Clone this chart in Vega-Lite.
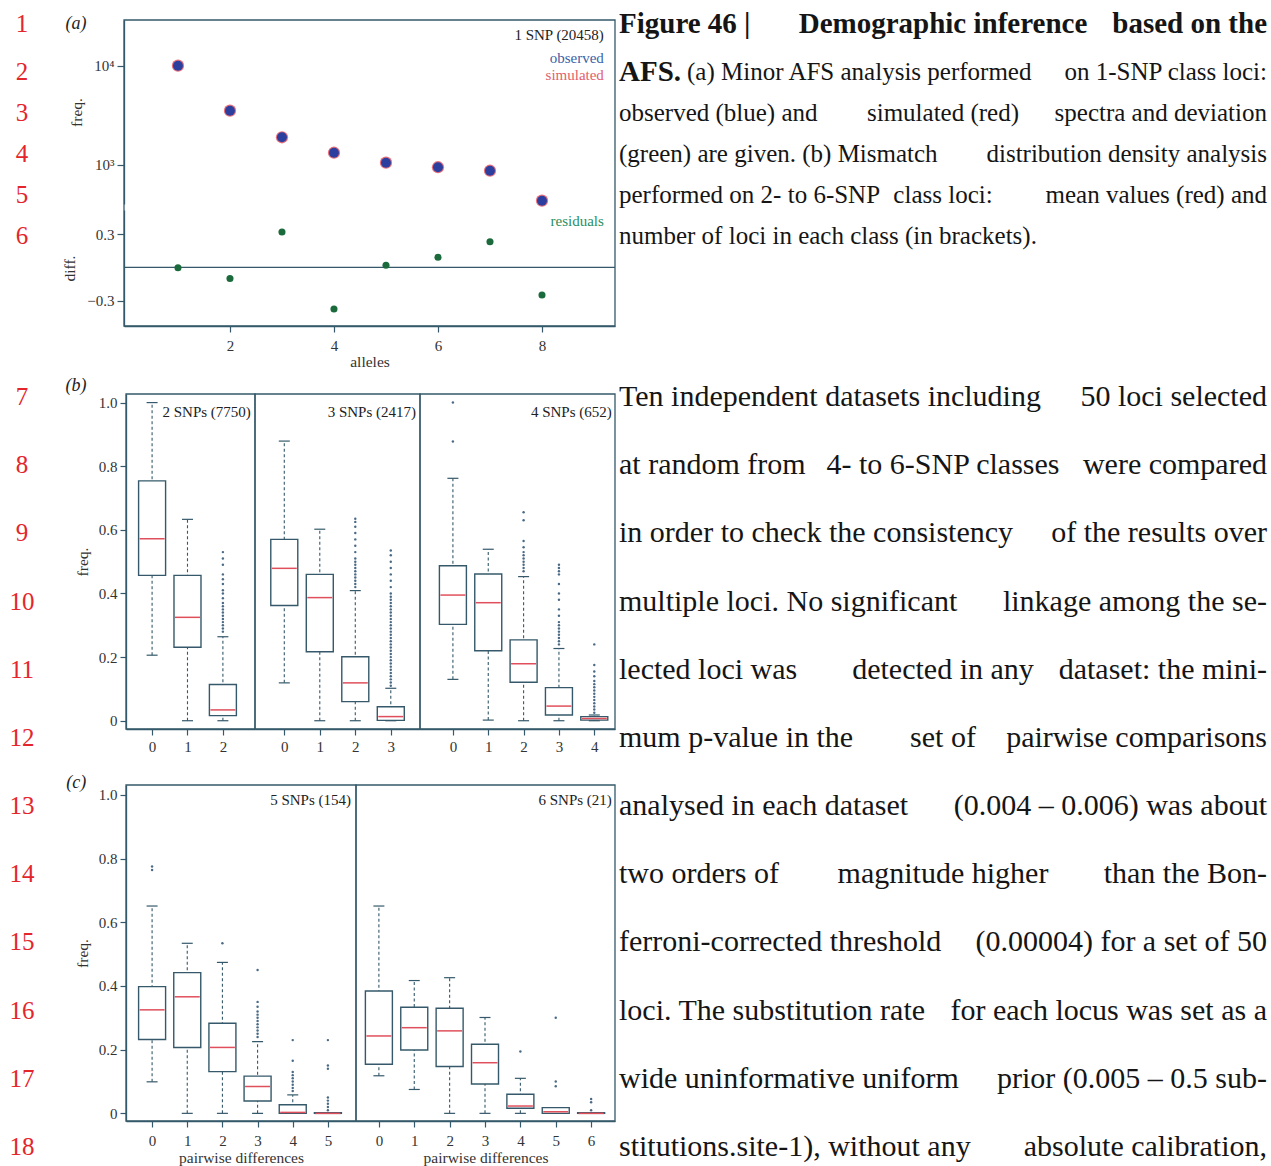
{
"$schema": "https://vega.github.io/schema/vega-lite/v6.json",
"width": 1271, "height": 1166,
"autosize": {"type": "none"},
"padding": 0,
"background": "white",
"config": {
  "view": {"stroke": null},
  "text": {"font": "Liberation Serif"},
  "axis": {"labelFont": "Liberation Serif", "labelFontSize": 15, "labelColor": "#333333", "titleFont": "Liberation Serif", "titleFontSize": 15.5, "titleFontWeight": "normal", "titleColor": "#333333", "domainColor": "#35596a", "tickColor": "#35596a", "domainWidth": 1.3, "tickWidth": 1.2, "grid": false, "tickSize": 6, "labelPadding": 3}
},
"datasets": {
  "nums": [{"line":1},{"line":2},{"line":3},{"line":4},{"line":5},{"line":6},{"line":7},{"line":8},{"line":9},{"line":10},{"line":11},{"line":12},{"line":13},{"line":14},{"line":15},{"line":16},{"line":17},{"line":18}],
  "heading": [
    {"line":1,"L":"Figure 46 |","M":"Demographic inference","R":"based on the"},
    {"line":2,"L":"AFS.","M":"","R":""}
  ],
  "caption": [
    {"line":2,"L":"","A":"(a) Minor AFS analysis performed","M":"","R":"on 1-SNP class loci:"},
    {"line":3,"L":"observed (blue) and","A":"","M":"simulated (red)","R":"spectra and deviation"},
    {"line":4,"L":"(green) are given. (b) Mismatch","A":"","M":"","R":"distribution density analysis"},
    {"line":5,"L":"performed on 2- to 6-SNP","A":"","M":"class loci:","R":"mean values (red) and"},
    {"line":6,"L":"number of loci in each class (in brackets).","A":"","M":"","R":""}
  ],
  "body": [
    {"line":7,"L":"Ten independent datasets including","M":"","R":"50 loci selected"},
    {"line":8,"L":"at random from","M":"4- to 6-SNP classes","R":"were compared"},
    {"line":9,"L":"in order to check the consistency","M":"","R":"of the results over"},
    {"line":10,"L":"multiple loci. No significant","M":"","R":"linkage among the se-"},
    {"line":11,"L":"lected loci was","M":"detected in any","R":"dataset: the mini-"},
    {"line":12,"L":"mum p-value in the","M":"set of","R":"pairwise comparisons"},
    {"line":13,"L":"analysed in each dataset","M":"","R":"(0.004 – 0.006) was about"},
    {"line":14,"L":"two orders of","M":"magnitude higher","R":"than the Bon-"},
    {"line":15,"L":"ferroni-corrected threshold","M":"","R":"(0.00004) for a set of 50"},
    {"line":16,"L":"loci. The substitution rate","M":"","R":"for each locus was set as a"},
    {"line":17,"L":"wide uninformative uniform","M":"","R":"prior (0.005 – 0.5 sub-"},
    {"line":18,"L":"stitutions.site-1), without any","M":"","R":"absolute calibration,"}
  ],
  "afs": [
    {"a":1,"obs":10070,"sim":10070,"diff":-0.004},
    {"a":2,"obs":3535,"sim":3535,"diff":-0.1},
    {"a":3,"obs":1905,"sim":1905,"diff":0.318},
    {"a":4,"obs":1330,"sim":1330,"diff":-0.375},
    {"a":5,"obs":1055,"sim":1055,"diff":0.018},
    {"a":6,"obs":949,"sim":949,"diff":0.09},
    {"a":7,"obs":875,"sim":875,"diff":0.23},
    {"a":8,"obs":436,"sim":436,"diff":-0.249}
  ],
  "boxes": [
    {"p":"b1","c":0,"lo":0.206,"q1":0.457,"med":0.572,"q3":0.754,"hi":1.0},
    {"p":"b1","c":1,"lo":0.0,"q1":0.231,"med":0.325,"q3":0.457,"hi":0.633},
    {"p":"b1","c":2,"lo":0.0,"q1":0.016,"med":0.034,"q3":0.114,"hi":0.264},
    {"p":"b2","c":0,"lo":0.119,"q1":0.362,"med":0.479,"q3":0.57,"hi":0.879},
    {"p":"b2","c":1,"lo":0.0,"q1":0.217,"med":0.387,"q3":0.46,"hi":0.602},
    {"p":"b2","c":2,"lo":0.0,"q1":0.06,"med":0.119,"q3":0.201,"hi":0.409},
    {"p":"b2","c":3,"lo":0.0,"q1":0.001,"med":0.013,"q3":0.044,"hi":0.102},
    {"p":"b3","c":0,"lo":0.13,"q1":0.303,"med":0.395,"q3":0.487,"hi":0.762},
    {"p":"b3","c":1,"lo":0.002,"q1":0.22,"med":0.371,"q3":0.461,"hi":0.539},
    {"p":"b3","c":2,"lo":0.0,"q1":0.121,"med":0.179,"q3":0.254,"hi":0.453},
    {"p":"b3","c":3,"lo":0.0,"q1":0.018,"med":0.046,"q3":0.104,"hi":0.227},
    {"p":"b3","c":4,"lo":0.0,"q1":0.002,"med":0.007,"q3":0.013,"hi":0.018},
    {"p":"c1","c":0,"lo":0.099,"q1":0.232,"med":0.325,"q3":0.398,"hi":0.651},
    {"p":"c1","c":1,"lo":0.0,"q1":0.207,"med":0.366,"q3":0.442,"hi":0.534},
    {"p":"c1","c":2,"lo":0.0,"q1":0.131,"med":0.207,"q3":0.283,"hi":0.474},
    {"p":"c1","c":3,"lo":0.0,"q1":0.039,"med":0.084,"q3":0.117,"hi":0.225},
    {"p":"c1","c":4,"lo":0.0,"q1":0.0,"med":0.003,"q3":0.027,"hi":0.058},
    {"p":"c1","c":5,"lo":0.0,"q1":0.0,"med":0.0,"q3":0.002,"hi":0.002},
    {"p":"c2","c":0,"lo":0.118,"q1":0.154,"med":0.243,"q3":0.384,"hi":0.651},
    {"p":"c2","c":1,"lo":0.075,"q1":0.199,"med":0.269,"q3":0.333,"hi":0.417},
    {"p":"c2","c":2,"lo":0.0,"q1":0.147,"med":0.259,"q3":0.33,"hi":0.426},
    {"p":"c2","c":3,"lo":0.0,"q1":0.092,"med":0.159,"q3":0.217,"hi":0.301},
    {"p":"c2","c":4,"lo":0.0,"q1":0.016,"med":0.023,"q3":0.06,"hi":0.11},
    {"p":"c2","c":5,"lo":0.0,"q1":0.0,"med":0.005,"q3":0.018,"hi":0.018},
    {"p":"c2","c":6,"lo":0.0,"q1":0.0,"med":0.0,"q3":0.002,"hi":0.002}
  ],
  "out": [
    {"p":"b1","c":2,"v":0.28},{"p":"b1","c":2,"v":0.29},{"p":"b1","c":2,"v":0.3},{"p":"b1","c":2,"v":0.31},{"p":"b1","c":2,"v":0.32},{"p":"b1","c":2,"v":0.33},{"p":"b1","c":2,"v":0.34},{"p":"b1","c":2,"v":0.35},{"p":"b1","c":2,"v":0.36},{"p":"b1","c":2,"v":0.37},{"p":"b1","c":2,"v":0.385},{"p":"b1","c":2,"v":0.4},{"p":"b1","c":2,"v":0.41},{"p":"b1","c":2,"v":0.43},{"p":"b1","c":2,"v":0.445},{"p":"b1","c":2,"v":0.46},{"p":"b1","c":2,"v":0.49},{"p":"b1","c":2,"v":0.51},{"p":"b1","c":2,"v":0.53},
    {"p":"b2","c":2,"v":0.42},{"p":"b2","c":2,"v":0.43},{"p":"b2","c":2,"v":0.44},{"p":"b2","c":2,"v":0.45},{"p":"b2","c":2,"v":0.46},{"p":"b2","c":2,"v":0.47},{"p":"b2","c":2,"v":0.48},{"p":"b2","c":2,"v":0.49},{"p":"b2","c":2,"v":0.5},{"p":"b2","c":2,"v":0.51},{"p":"b2","c":2,"v":0.53},{"p":"b2","c":2,"v":0.55},{"p":"b2","c":2,"v":0.57},{"p":"b2","c":2,"v":0.59},{"p":"b2","c":2,"v":0.61},{"p":"b2","c":2,"v":0.625},{"p":"b2","c":2,"v":0.635},
    {"p":"b2","c":3,"v":0.11},{"p":"b2","c":3,"v":0.12},{"p":"b2","c":3,"v":0.13},{"p":"b2","c":3,"v":0.14},{"p":"b2","c":3,"v":0.15},{"p":"b2","c":3,"v":0.16},{"p":"b2","c":3,"v":0.17},{"p":"b2","c":3,"v":0.18},{"p":"b2","c":3,"v":0.19},{"p":"b2","c":3,"v":0.2},{"p":"b2","c":3,"v":0.21},{"p":"b2","c":3,"v":0.22},{"p":"b2","c":3,"v":0.23},{"p":"b2","c":3,"v":0.24},{"p":"b2","c":3,"v":0.25},{"p":"b2","c":3,"v":0.26},{"p":"b2","c":3,"v":0.27},{"p":"b2","c":3,"v":0.28},{"p":"b2","c":3,"v":0.29},{"p":"b2","c":3,"v":0.3},{"p":"b2","c":3,"v":0.31},{"p":"b2","c":3,"v":0.32},{"p":"b2","c":3,"v":0.33},{"p":"b2","c":3,"v":0.34},{"p":"b2","c":3,"v":0.35},{"p":"b2","c":3,"v":0.36},{"p":"b2","c":3,"v":0.37},{"p":"b2","c":3,"v":0.38},{"p":"b2","c":3,"v":0.39},{"p":"b2","c":3,"v":0.4},{"p":"b2","c":3,"v":0.42},{"p":"b2","c":3,"v":0.44},{"p":"b2","c":3,"v":0.46},{"p":"b2","c":3,"v":0.48},{"p":"b2","c":3,"v":0.5},{"p":"b2","c":3,"v":0.52},{"p":"b2","c":3,"v":0.535},
    {"p":"b3","c":0,"v":0.878},{"p":"b3","c":0,"v":1.0},
    {"p":"b3","c":2,"v":0.47},{"p":"b3","c":2,"v":0.48},{"p":"b3","c":2,"v":0.49},{"p":"b3","c":2,"v":0.5},{"p":"b3","c":2,"v":0.51},{"p":"b3","c":2,"v":0.52},{"p":"b3","c":2,"v":0.53},{"p":"b3","c":2,"v":0.545},{"p":"b3","c":2,"v":0.565},{"p":"b3","c":2,"v":0.63},{"p":"b3","c":2,"v":0.655},
    {"p":"b3","c":3,"v":0.24},{"p":"b3","c":3,"v":0.25},{"p":"b3","c":3,"v":0.26},{"p":"b3","c":3,"v":0.27},{"p":"b3","c":3,"v":0.28},{"p":"b3","c":3,"v":0.29},{"p":"b3","c":3,"v":0.3},{"p":"b3","c":3,"v":0.31},{"p":"b3","c":3,"v":0.33},{"p":"b3","c":3,"v":0.35},{"p":"b3","c":3,"v":0.38},{"p":"b3","c":3,"v":0.4},{"p":"b3","c":3,"v":0.43},{"p":"b3","c":3,"v":0.46},{"p":"b3","c":3,"v":0.47},{"p":"b3","c":3,"v":0.48},{"p":"b3","c":3,"v":0.49},
    {"p":"b3","c":4,"v":0.025},{"p":"b3","c":4,"v":0.035},{"p":"b3","c":4,"v":0.045},{"p":"b3","c":4,"v":0.055},{"p":"b3","c":4,"v":0.065},{"p":"b3","c":4,"v":0.075},{"p":"b3","c":4,"v":0.085},{"p":"b3","c":4,"v":0.095},{"p":"b3","c":4,"v":0.105},{"p":"b3","c":4,"v":0.115},{"p":"b3","c":4,"v":0.125},{"p":"b3","c":4,"v":0.14},{"p":"b3","c":4,"v":0.155},{"p":"b3","c":4,"v":0.175},{"p":"b3","c":4,"v":0.24},
    {"p":"c1","c":0,"v":0.764},{"p":"c1","c":0,"v":0.775},
    {"p":"c1","c":2,"v":0.534},
    {"p":"c1","c":3,"v":0.24},{"p":"c1","c":3,"v":0.25},{"p":"c1","c":3,"v":0.26},{"p":"c1","c":3,"v":0.27},{"p":"c1","c":3,"v":0.28},{"p":"c1","c":3,"v":0.29},{"p":"c1","c":3,"v":0.3},{"p":"c1","c":3,"v":0.31},{"p":"c1","c":3,"v":0.32},{"p":"c1","c":3,"v":0.335},{"p":"c1","c":3,"v":0.35},{"p":"c1","c":3,"v":0.45},
    {"p":"c1","c":4,"v":0.07},{"p":"c1","c":4,"v":0.08},{"p":"c1","c":4,"v":0.09},{"p":"c1","c":4,"v":0.1},{"p":"c1","c":4,"v":0.11},{"p":"c1","c":4,"v":0.12},{"p":"c1","c":4,"v":0.13},{"p":"c1","c":4,"v":0.165},{"p":"c1","c":4,"v":0.23},
    {"p":"c1","c":5,"v":0.01},{"p":"c1","c":5,"v":0.02},{"p":"c1","c":5,"v":0.03},{"p":"c1","c":5,"v":0.04},{"p":"c1","c":5,"v":0.05},{"p":"c1","c":5,"v":0.14},{"p":"c1","c":5,"v":0.15},{"p":"c1","c":5,"v":0.23},
    {"p":"c2","c":4,"v":0.194},
    {"p":"c2","c":5,"v":0.085},{"p":"c2","c":5,"v":0.1},{"p":"c2","c":5,"v":0.3},
    {"p":"c2","c":6,"v":0.01},{"p":"c2","c":6,"v":0.035},{"p":"c2","c":6,"v":0.045}
  ]
},
"resolve": {"scale": {"x": "independent", "y": "independent"}},
"layer": [
  {
    "data": {"name": "nums"},
    "mark": {"type": "text", "align": "center", "baseline": "middle", "fontSize": 25, "color": "#e4262c", "font": "Liberation Serif"},
    "encoding": {
      "x": {"datum": 0, "type": "quantitative", "scale": {"domain": [0, 1], "range": [22, 100], "nice": false, "zero": false}, "axis": null},
      "y": {"field": "line", "type": "quantitative", "scale": {"domain": [1, 2, 6, 7, 18], "range": [24, 72, 236, 397, 1147], "nice": false, "zero": false}, "axis": null},
      "text": {"field": "line", "type": "quantitative", "format": "d"}
    }
  },
  {
    "encoding": {
      "y": {"field": "line", "type": "quantitative", "scale": {"domain": [1, 2, 6, 7, 18], "range": [24, 72, 236, 397, 1147], "nice": false, "zero": false}, "axis": null}
    },
    "layer": [
      {"data": {"name": "heading"}, "mark": {"type": "text", "align": "left", "baseline": "middle", "fontSize": 29, "fontWeight": "bold", "color": "#151515"},
       "encoding": {"x": {"datum": 0, "type": "quantitative", "scale": {"domain": [0, 1], "range": [619, 1267], "nice": false, "zero": false}, "axis": null}, "text": {"field": "L"}}},
      {"data": {"name": "heading"}, "mark": {"type": "text", "align": "center", "baseline": "middle", "fontSize": 29, "fontWeight": "bold", "color": "#151515"},
       "encoding": {"x": {"datum": 0.5, "type": "quantitative", "scale": {"domain": [0, 1], "range": [619, 1267], "nice": false, "zero": false}, "axis": null}, "text": {"field": "M"}}},
      {"data": {"name": "heading"}, "mark": {"type": "text", "align": "right", "baseline": "middle", "fontSize": 29, "fontWeight": "bold", "color": "#151515"},
       "encoding": {"x": {"datum": 1, "type": "quantitative", "scale": {"domain": [0, 1], "range": [619, 1267], "nice": false, "zero": false}, "axis": null}, "text": {"field": "R"}}},
      {"data": {"name": "caption"}, "mark": {"type": "text", "align": "left", "baseline": "middle", "fontSize": 25, "color": "#151515"},
       "encoding": {"x": {"datum": 0, "type": "quantitative", "scale": {"domain": [0, 1], "range": [619, 1267], "nice": false, "zero": false}, "axis": null}, "text": {"field": "L"}}},
      {"data": {"name": "caption"}, "mark": {"type": "text", "align": "left", "baseline": "middle", "fontSize": 25, "color": "#151515"},
       "encoding": {"x": {"datum": 0.105, "type": "quantitative", "scale": {"domain": [0, 1], "range": [619, 1267], "nice": false, "zero": false}, "axis": null}, "text": {"field": "A"}}},
      {"data": {"name": "caption"}, "mark": {"type": "text", "align": "center", "baseline": "middle", "fontSize": 25, "color": "#151515"},
       "encoding": {"x": {"datum": 0.5, "type": "quantitative", "scale": {"domain": [0, 1], "range": [619, 1267], "nice": false, "zero": false}, "axis": null}, "text": {"field": "M"}}},
      {"data": {"name": "caption"}, "mark": {"type": "text", "align": "right", "baseline": "middle", "fontSize": 25, "color": "#151515"},
       "encoding": {"x": {"datum": 1, "type": "quantitative", "scale": {"domain": [0, 1], "range": [619, 1267], "nice": false, "zero": false}, "axis": null}, "text": {"field": "R"}}},
      {"data": {"name": "body"}, "mark": {"type": "text", "align": "left", "baseline": "middle", "fontSize": 30, "color": "#151515"},
       "encoding": {"x": {"datum": 0, "type": "quantitative", "scale": {"domain": [0, 1], "range": [619, 1267], "nice": false, "zero": false}, "axis": null}, "text": {"field": "L"}}},
      {"data": {"name": "body"}, "mark": {"type": "text", "align": "center", "baseline": "middle", "fontSize": 30, "color": "#151515"},
       "encoding": {"x": {"datum": 0.5, "type": "quantitative", "scale": {"domain": [0, 1], "range": [619, 1267], "nice": false, "zero": false}, "axis": null}, "text": {"field": "M"}}},
      {"data": {"name": "body"}, "mark": {"type": "text", "align": "right", "baseline": "middle", "fontSize": 30, "color": "#151515"},
       "encoding": {"x": {"datum": 1, "type": "quantitative", "scale": {"domain": [0, 1], "range": [619, 1267], "nice": false, "zero": false}, "axis": null}, "text": {"field": "R"}}}
    ]
  },
  {
    "resolve": {"scale": {"y": "independent"}},
    "layer": [
      {
        "layer": [
          {"data": {"name": "afs"}, "mark": {"type": "point", "filled": true, "size": 150, "color": "#e8707c", "opacity": 1},
           "encoding": {
             "x": {"field": "a", "type": "quantitative", "scale": {"domain": [-0.038, 9.404], "range": [124, 615], "nice": false, "zero": false, "padding": 0},
                   "axis": {"orient": "bottom", "offset": -840, "values": [2, 4, 6, 8], "format": "d", "title": "alleles", "labelPadding": 6, "titlePadding": 1}},
             "y": {"field": "sim", "type": "quantitative", "scale": {"type": "log", "domain": [403.6, 29140], "range": [204, 20], "nice": false, "padding": 0},
                   "axis": {"orient": "left", "offset": -124, "values": [1000, 10000], "labelExpr": "datum.value >= 10000 ? '10⁴' : '10³'", "title": "freq.", "titlePadding": 9, "tickSize": 7}}
           }},
          {"data": {"name": "afs"}, "mark": {"type": "point", "filled": true, "size": 100, "color": "#2c3f9e", "opacity": 1},
           "encoding": {
             "x": {"field": "a", "type": "quantitative", "scale": {"domain": [-0.038, 9.404], "range": [124, 615], "nice": false, "zero": false, "padding": 0},
                   "axis": {"orient": "bottom", "offset": -840, "values": [2, 4, 6, 8], "format": "d", "title": "alleles", "labelPadding": 6, "titlePadding": 1}},
             "y": {"field": "obs", "type": "quantitative", "scale": {"type": "log", "domain": [403.6, 29140], "range": [204, 20], "nice": false, "padding": 0},
                   "axis": {"orient": "left", "offset": -124, "values": [1000, 10000], "labelExpr": "datum.value >= 10000 ? '10⁴' : '10³'", "title": "freq.", "titlePadding": 9, "tickSize": 7}}
           }},
          {"data": {"values": [{"t": "1 SNP (20458)", "x": 9.19, "y": 20560}]}, "mark": {"type": "text", "align": "right", "baseline": "middle", "fontSize": 15, "color": "#222222"},
           "encoding": {
             "x": {"field": "x", "type": "quantitative", "axis": {"orient": "bottom", "offset": -840, "values": [2, 4, 6, 8], "format": "d", "title": "alleles", "labelPadding": 6, "titlePadding": 1}},
             "y": {"field": "y", "type": "quantitative", "axis": {"orient": "left", "offset": -124, "values": [1000, 10000], "labelExpr": "datum.value >= 10000 ? '10⁴' : '10³'", "title": "freq.", "titlePadding": 9, "tickSize": 7}},
             "text": {"field": "t"}}},
          {"data": {"values": [{"t": "observed", "x": 9.19, "y": 12130}]}, "mark": {"type": "text", "align": "right", "baseline": "middle", "fontSize": 15, "color": "#3d5fa8"},
           "encoding": {
             "x": {"field": "x", "type": "quantitative", "axis": {"orient": "bottom", "offset": -840, "values": [2, 4, 6, 8], "format": "d", "title": "alleles", "labelPadding": 6, "titlePadding": 1}},
             "y": {"field": "y", "type": "quantitative", "axis": {"orient": "left", "offset": -124, "values": [1000, 10000], "labelExpr": "datum.value >= 10000 ? '10⁴' : '10³'", "title": "freq.", "titlePadding": 9, "tickSize": 7}},
             "text": {"field": "t"}}},
          {"data": {"values": [{"t": "simulated", "x": 9.19, "y": 8110}]}, "mark": {"type": "text", "align": "right", "baseline": "middle", "fontSize": 15, "color": "#e4606c"},
           "encoding": {
             "x": {"field": "x", "type": "quantitative", "axis": {"orient": "bottom", "offset": -840, "values": [2, 4, 6, 8], "format": "d", "title": "alleles", "labelPadding": 6, "titlePadding": 1}},
             "y": {"field": "y", "type": "quantitative", "axis": {"orient": "left", "offset": -124, "values": [1000, 10000], "labelExpr": "datum.value >= 10000 ? '10⁴' : '10³'", "title": "freq.", "titlePadding": 9, "tickSize": 7}},
             "text": {"field": "t"}}},
          {"data": {"values": [{"t": "(a)", "x": -0.96, "y": 26550}]}, "mark": {"type": "text", "align": "center", "baseline": "middle", "fontSize": 18, "fontStyle": "italic", "color": "#222222"},
           "encoding": {
             "x": {"field": "x", "type": "quantitative", "axis": {"orient": "bottom", "offset": -840, "values": [2, 4, 6, 8], "format": "d", "title": "alleles", "labelPadding": 6, "titlePadding": 1}},
             "y": {"field": "y", "type": "quantitative", "axis": {"orient": "left", "offset": -124, "values": [1000, 10000], "labelExpr": "datum.value >= 10000 ? '10⁴' : '10³'", "title": "freq.", "titlePadding": 9, "tickSize": 7}},
             "text": {"field": "t"}}}
        ]
      },
      {
        "layer": [
          {"data": {"values": [{"x1": -0.038, "x2": 9.404, "y1": -0.528, "y2": 2.226}]}, "mark": {"type": "rect", "fillOpacity": 0, "stroke": "#35596a", "strokeWidth": 1.3},
           "encoding": {
             "x": {"field": "x1", "type": "quantitative", "axis": {"orient": "bottom", "offset": -840, "values": [2, 4, 6, 8], "format": "d", "title": "alleles", "labelPadding": 6, "titlePadding": 1}},
             "x2": {"field": "x2"},
             "y": {"field": "y1", "type": "quantitative", "scale": {"domain": [-0.528, 0.516], "range": [326, 210], "nice": false, "zero": false, "padding": 0},
                   "axis": {"orient": "left", "offset": -124, "values": [-0.3, 0.3], "labelExpr": "replace(format(datum.value, '.1f'), '-', '−')", "title": "diff.", "titlePadding": 9, "tickSize": 7}},
             "y2": {"field": "y2"}
           }},
          {"data": {"values": [{"x1": -0.038, "x2": 9.404, "y": 0}]}, "mark": {"type": "rule", "color": "#35596a", "strokeWidth": 1.3},
           "encoding": {
             "x": {"field": "x1", "type": "quantitative", "axis": {"orient": "bottom", "offset": -840, "values": [2, 4, 6, 8], "format": "d", "title": "alleles", "labelPadding": 6, "titlePadding": 1}},
             "x2": {"field": "x2"},
             "y": {"field": "y", "type": "quantitative", "axis": {"orient": "left", "offset": -124, "values": [-0.3, 0.3], "labelExpr": "replace(format(datum.value, '.1f'), '-', '−')", "title": "diff.", "titlePadding": 9, "tickSize": 7}}
           }},
          {"data": {"name": "afs"}, "mark": {"type": "point", "filled": true, "size": 50, "color": "#1b6a3c", "opacity": 1},
           "encoding": {
             "x": {"field": "a", "type": "quantitative", "axis": {"orient": "bottom", "offset": -840, "values": [2, 4, 6, 8], "format": "d", "title": "alleles", "labelPadding": 6, "titlePadding": 1}},
             "y": {"field": "diff", "type": "quantitative", "axis": {"orient": "left", "offset": -124, "values": [-0.3, 0.3], "labelExpr": "replace(format(datum.value, '.1f'), '-', '−')", "title": "diff.", "titlePadding": 9, "tickSize": 7}}
           }},
          {"data": {"values": [{"t": "residuals", "x": 9.19, "y": 0.419}]}, "mark": {"type": "text", "align": "right", "baseline": "middle", "fontSize": 15, "color": "#2a8f5e"},
           "encoding": {
             "x": {"field": "x", "type": "quantitative", "axis": {"orient": "bottom", "offset": -840, "values": [2, 4, 6, 8], "format": "d", "title": "alleles", "labelPadding": 6, "titlePadding": 1}},
             "y": {"field": "y", "type": "quantitative", "axis": {"orient": "left", "offset": -124, "values": [-0.3, 0.3], "labelExpr": "replace(format(datum.value, '.1f'), '-', '−')", "title": "diff.", "titlePadding": 9, "tickSize": 7}},
             "text": {"field": "t"}}}
        ]
      }
    ]
  },
  {
    "data": {"name": "boxes"},
    "transform": [{"filter": "datum.p === 'b1'"}],
    "encoding": {
      "x": {"field": "c", "type": "quantitative", "scale": {"domain": [-0.737, 2.907], "range": [126, 255], "nice": false, "zero": false, "padding": 0},
            "axis": {"orient": "bottom", "offset": -437, "values": [0, 1, 2], "format": "d", "title": null, "labelPadding": 4}}
    },
    "layer": [
      {"data": {"values": [{"x1": -0.737, "x2": 2.907, "y1": -0.026, "y2": 1.027}]}, "transform": [], "mark": {"type": "rect", "fillOpacity": 0, "stroke": "#35596a", "strokeWidth": 1.3},
       "encoding": {
         "x": {"field": "x1", "type": "quantitative", "axis": {"orient": "bottom", "offset": -437, "values": [0, 1, 2], "format": "d", "title": null, "labelPadding": 4}},
         "x2": {"field": "x2"},
         "y": {"field": "y1", "type": "quantitative", "scale": {"domain": [-0.026, 1.027], "range": [729, 394], "nice": false, "zero": false, "padding": 0},
               "axis": {"orient": "left", "offset": -126, "values": [0, 0.2, 0.4, 0.6, 0.8, 1], "labelExpr": "datum.value === 0 ? '0' : format(datum.value, '.1f')", "title": "freq.", "titlePadding": 8}},
         "y2": {"field": "y2"}
       }},
      {"mark": {"type": "rule", "color": "#35596a", "strokeWidth": 1.1, "strokeDash": [3, 2.5]},
       "encoding": {"y": {"field": "lo", "type": "quantitative", "axis": {"orient": "left", "offset": -126, "values": [0, 0.2, 0.4, 0.6, 0.8, 1], "labelExpr": "datum.value === 0 ? '0' : format(datum.value, '.1f')", "title": "freq.", "titlePadding": 8}}, "y2": {"field": "hi"}}},
      {"mark": {"type": "tick", "orient": "horizontal", "size": 11, "thickness": 1.2, "color": "#35596a", "opacity": 1},
       "encoding": {"y": {"field": "lo", "type": "quantitative", "axis": {"orient": "left", "offset": -126, "values": [0, 0.2, 0.4, 0.6, 0.8, 1], "labelExpr": "datum.value === 0 ? '0' : format(datum.value, '.1f')", "title": "freq.", "titlePadding": 8}}}},
      {"mark": {"type": "tick", "orient": "horizontal", "size": 11, "thickness": 1.2, "color": "#35596a", "opacity": 1},
       "encoding": {"y": {"field": "hi", "type": "quantitative", "axis": {"orient": "left", "offset": -126, "values": [0, 0.2, 0.4, 0.6, 0.8, 1], "labelExpr": "datum.value === 0 ? '0' : format(datum.value, '.1f')", "title": "freq.", "titlePadding": 8}}}},
      {"mark": {"type": "bar", "width": 27, "fill": "white", "stroke": "#35596a", "strokeWidth": 1.4},
       "encoding": {"y": {"field": "q1", "type": "quantitative", "axis": {"orient": "left", "offset": -126, "values": [0, 0.2, 0.4, 0.6, 0.8, 1], "labelExpr": "datum.value === 0 ? '0' : format(datum.value, '.1f')", "title": "freq.", "titlePadding": 8}}, "y2": {"field": "q3"}}},
      {"mark": {"type": "tick", "orient": "horizontal", "size": 25, "thickness": 1.5, "color": "#e0505c", "opacity": 1},
       "encoding": {"y": {"field": "med", "type": "quantitative", "axis": {"orient": "left", "offset": -126, "values": [0, 0.2, 0.4, 0.6, 0.8, 1], "labelExpr": "datum.value === 0 ? '0' : format(datum.value, '.1f')", "title": "freq.", "titlePadding": 8}}}},
      {"data": {"name": "out"}, "transform": [{"filter": "datum.p === 'b1'"}], "mark": {"type": "point", "filled": true, "size": 6, "color": "#4a6a85", "opacity": 1},
       "encoding": {"y": {"field": "v", "type": "quantitative", "axis": {"orient": "left", "offset": -126, "values": [0, 0.2, 0.4, 0.6, 0.8, 1], "labelExpr": "datum.value === 0 ? '0' : format(datum.value, '.1f')", "title": "freq.", "titlePadding": 8}}}},
      {"data": {"values": [{"t": "2 SNPs (7750)", "c": 2.79, "y": 0.969}]}, "mark": {"type": "text", "align": "right", "baseline": "middle", "fontSize": 15, "color": "#222222"},
       "encoding": {"y": {"field": "y", "type": "quantitative", "axis": {"orient": "left", "offset": -126, "values": [0, 0.2, 0.4, 0.6, 0.8, 1], "labelExpr": "datum.value === 0 ? '0' : format(datum.value, '.1f')", "title": "freq.", "titlePadding": 8}}, "text": {"field": "t"}}},
      {"data": {"values": [{"t": "(b)", "c": -2.15, "y": 1.052}]}, "mark": {"type": "text", "align": "center", "baseline": "middle", "fontSize": 18, "fontStyle": "italic", "color": "#222222"},
       "encoding": {"y": {"field": "y", "type": "quantitative", "axis": {"orient": "left", "offset": -126, "values": [0, 0.2, 0.4, 0.6, 0.8, 1], "labelExpr": "datum.value === 0 ? '0' : format(datum.value, '.1f')", "title": "freq.", "titlePadding": 8}}, "text": {"field": "t"}}}
    ]
  },
  {
    "data": {"name": "boxes"},
    "transform": [{"filter": "datum.p === 'b2'"}],
    "encoding": {
      "x": {"field": "c", "type": "quantitative", "scale": {"domain": [-0.825, 3.823], "range": [255, 420], "nice": false, "zero": false, "padding": 0},
            "axis": {"orient": "bottom", "offset": -437, "values": [0, 1, 2, 3], "format": "d", "title": null, "labelPadding": 4}}
    },
    "layer": [
      {"data": {"values": [{"x1": -0.825, "x2": 3.823, "y1": -0.026, "y2": 1.027}]}, "transform": [], "mark": {"type": "rect", "fillOpacity": 0, "stroke": "#35596a", "strokeWidth": 1.3},
       "encoding": {
         "x": {"field": "x1", "type": "quantitative", "axis": {"orient": "bottom", "offset": -437, "values": [0, 1, 2, 3], "format": "d", "title": null, "labelPadding": 4}},
         "x2": {"field": "x2"},
         "y": {"field": "y1", "type": "quantitative", "scale": {"domain": [-0.026, 1.027], "range": [729, 394], "nice": false, "zero": false, "padding": 0}, "axis": null},
         "y2": {"field": "y2"}
       }},
      {"mark": {"type": "rule", "color": "#35596a", "strokeWidth": 1.1, "strokeDash": [3, 2.5]},
       "encoding": {"y": {"field": "lo", "type": "quantitative", "axis": null}, "y2": {"field": "hi"}}},
      {"mark": {"type": "tick", "orient": "horizontal", "size": 11, "thickness": 1.2, "color": "#35596a", "opacity": 1},
       "encoding": {"y": {"field": "lo", "type": "quantitative", "axis": null}}},
      {"mark": {"type": "tick", "orient": "horizontal", "size": 11, "thickness": 1.2, "color": "#35596a", "opacity": 1},
       "encoding": {"y": {"field": "hi", "type": "quantitative", "axis": null}}},
      {"mark": {"type": "bar", "width": 27, "fill": "white", "stroke": "#35596a", "strokeWidth": 1.4},
       "encoding": {"y": {"field": "q1", "type": "quantitative", "axis": null}, "y2": {"field": "q3"}}},
      {"mark": {"type": "tick", "orient": "horizontal", "size": 25, "thickness": 1.5, "color": "#e0505c", "opacity": 1},
       "encoding": {"y": {"field": "med", "type": "quantitative", "axis": null}}},
      {"data": {"name": "out"}, "transform": [{"filter": "datum.p === 'b2'"}], "mark": {"type": "point", "filled": true, "size": 6, "color": "#4a6a85", "opacity": 1},
       "encoding": {"y": {"field": "v", "type": "quantitative", "axis": null}}},
      {"data": {"values": [{"t": "3 SNPs (2417)", "c": 3.71, "y": 0.969}]}, "mark": {"type": "text", "align": "right", "baseline": "middle", "fontSize": 15, "color": "#222222"},
       "encoding": {"y": {"field": "y", "type": "quantitative", "axis": null}, "text": {"field": "t"}}}
    ]
  },
  {
    "data": {"name": "boxes"},
    "transform": [{"filter": "datum.p === 'b3'"}],
    "encoding": {
      "x": {"field": "c", "type": "quantitative", "scale": {"domain": [-0.931, 4.586], "range": [420, 615], "nice": false, "zero": false, "padding": 0},
            "axis": {"orient": "bottom", "offset": -437, "values": [0, 1, 2, 3, 4], "format": "d", "title": null, "labelPadding": 4}}
    },
    "layer": [
      {"data": {"values": [{"x1": -0.931, "x2": 4.586, "y1": -0.026, "y2": 1.027}]}, "transform": [], "mark": {"type": "rect", "fillOpacity": 0, "stroke": "#35596a", "strokeWidth": 1.3},
       "encoding": {
         "x": {"field": "x1", "type": "quantitative", "axis": {"orient": "bottom", "offset": -437, "values": [0, 1, 2, 3, 4], "format": "d", "title": null, "labelPadding": 4}},
         "x2": {"field": "x2"},
         "y": {"field": "y1", "type": "quantitative", "scale": {"domain": [-0.026, 1.027], "range": [729, 394], "nice": false, "zero": false, "padding": 0}, "axis": null},
         "y2": {"field": "y2"}
       }},
      {"mark": {"type": "rule", "color": "#35596a", "strokeWidth": 1.1, "strokeDash": [3, 2.5]},
       "encoding": {"y": {"field": "lo", "type": "quantitative", "axis": null}, "y2": {"field": "hi"}}},
      {"mark": {"type": "tick", "orient": "horizontal", "size": 11, "thickness": 1.2, "color": "#35596a", "opacity": 1},
       "encoding": {"y": {"field": "lo", "type": "quantitative", "axis": null}}},
      {"mark": {"type": "tick", "orient": "horizontal", "size": 11, "thickness": 1.2, "color": "#35596a", "opacity": 1},
       "encoding": {"y": {"field": "hi", "type": "quantitative", "axis": null}}},
      {"mark": {"type": "bar", "width": 27, "fill": "white", "stroke": "#35596a", "strokeWidth": 1.4},
       "encoding": {"y": {"field": "q1", "type": "quantitative", "axis": null}, "y2": {"field": "q3"}}},
      {"mark": {"type": "tick", "orient": "horizontal", "size": 25, "thickness": 1.5, "color": "#e0505c", "opacity": 1},
       "encoding": {"y": {"field": "med", "type": "quantitative", "axis": null}}},
      {"data": {"name": "out"}, "transform": [{"filter": "datum.p === 'b3'"}], "mark": {"type": "point", "filled": true, "size": 6, "color": "#4a6a85", "opacity": 1},
       "encoding": {"y": {"field": "v", "type": "quantitative", "axis": null}}},
      {"data": {"values": [{"t": "4 SNPs (652)", "c": 4.495, "y": 0.969}]}, "mark": {"type": "text", "align": "right", "baseline": "middle", "fontSize": 15, "color": "#222222"},
       "encoding": {"y": {"field": "y", "type": "quantitative", "axis": null}, "text": {"field": "t"}}}
    ]
  },
  {
    "data": {"name": "boxes"},
    "transform": [{"filter": "datum.p === 'c1'"}],
    "encoding": {
      "x": {"field": "c", "type": "quantitative", "scale": {"domain": [-0.742, 5.799], "range": [126, 356], "nice": false, "zero": false, "padding": 0},
            "axis": {"orient": "bottom", "offset": -45, "values": [0, 1, 2, 3, 4, 5], "format": "d", "title": "pairwise differences", "labelPadding": 6, "titlePadding": 2}}
    },
    "layer": [
      {"data": {"values": [{"x1": -0.742, "x2": 5.799, "y1": -0.024, "y2": 1.031}]}, "transform": [], "mark": {"type": "rect", "fillOpacity": 0, "stroke": "#35596a", "strokeWidth": 1.3},
       "encoding": {
         "x": {"field": "x1", "type": "quantitative", "axis": {"orient": "bottom", "offset": -45, "values": [0, 1, 2, 3, 4, 5], "format": "d", "title": "pairwise differences", "labelPadding": 6, "titlePadding": 2}},
         "x2": {"field": "x2"},
         "y": {"field": "y1", "type": "quantitative", "scale": {"domain": [-0.024, 1.031], "range": [1121, 785], "nice": false, "zero": false, "padding": 0},
               "axis": {"orient": "left", "offset": -126, "values": [0, 0.2, 0.4, 0.6, 0.8, 1], "labelExpr": "datum.value === 0 ? '0' : format(datum.value, '.1f')", "title": "freq.", "titlePadding": 8}},
         "y2": {"field": "y2"}
       }},
      {"mark": {"type": "rule", "color": "#35596a", "strokeWidth": 1.1, "strokeDash": [3, 2.5]},
       "encoding": {"y": {"field": "lo", "type": "quantitative", "axis": {"orient": "left", "offset": -126, "values": [0, 0.2, 0.4, 0.6, 0.8, 1], "labelExpr": "datum.value === 0 ? '0' : format(datum.value, '.1f')", "title": "freq.", "titlePadding": 8}}, "y2": {"field": "hi"}}},
      {"mark": {"type": "tick", "orient": "horizontal", "size": 11, "thickness": 1.2, "color": "#35596a", "opacity": 1},
       "encoding": {"y": {"field": "lo", "type": "quantitative", "axis": {"orient": "left", "offset": -126, "values": [0, 0.2, 0.4, 0.6, 0.8, 1], "labelExpr": "datum.value === 0 ? '0' : format(datum.value, '.1f')", "title": "freq.", "titlePadding": 8}}}},
      {"mark": {"type": "tick", "orient": "horizontal", "size": 11, "thickness": 1.2, "color": "#35596a", "opacity": 1},
       "encoding": {"y": {"field": "hi", "type": "quantitative", "axis": {"orient": "left", "offset": -126, "values": [0, 0.2, 0.4, 0.6, 0.8, 1], "labelExpr": "datum.value === 0 ? '0' : format(datum.value, '.1f')", "title": "freq.", "titlePadding": 8}}}},
      {"mark": {"type": "bar", "width": 27, "fill": "white", "stroke": "#35596a", "strokeWidth": 1.4},
       "encoding": {"y": {"field": "q1", "type": "quantitative", "axis": {"orient": "left", "offset": -126, "values": [0, 0.2, 0.4, 0.6, 0.8, 1], "labelExpr": "datum.value === 0 ? '0' : format(datum.value, '.1f')", "title": "freq.", "titlePadding": 8}}, "y2": {"field": "q3"}}},
      {"mark": {"type": "tick", "orient": "horizontal", "size": 25, "thickness": 1.5, "color": "#e0505c", "opacity": 1},
       "encoding": {"y": {"field": "med", "type": "quantitative", "axis": {"orient": "left", "offset": -126, "values": [0, 0.2, 0.4, 0.6, 0.8, 1], "labelExpr": "datum.value === 0 ? '0' : format(datum.value, '.1f')", "title": "freq.", "titlePadding": 8}}}},
      {"data": {"name": "out"}, "transform": [{"filter": "datum.p === 'c1'"}], "mark": {"type": "point", "filled": true, "size": 6, "color": "#4a6a85", "opacity": 1},
       "encoding": {"y": {"field": "v", "type": "quantitative", "axis": {"orient": "left", "offset": -126, "values": [0, 0.2, 0.4, 0.6, 0.8, 1], "labelExpr": "datum.value === 0 ? '0' : format(datum.value, '.1f')", "title": "freq.", "titlePadding": 8}}}},
      {"data": {"values": [{"t": "5 SNPs (154)", "c": 5.657, "y": 0.984}]}, "mark": {"type": "text", "align": "right", "baseline": "middle", "fontSize": 15, "color": "#222222"},
       "encoding": {"y": {"field": "y", "type": "quantitative", "axis": {"orient": "left", "offset": -126, "values": [0, 0.2, 0.4, 0.6, 0.8, 1], "labelExpr": "datum.value === 0 ? '0' : format(datum.value, '.1f')", "title": "freq.", "titlePadding": 8}}, "text": {"field": "t"}}},
      {"data": {"values": [{"t": "(c)", "c": -2.16, "y": 1.037}]}, "mark": {"type": "text", "align": "center", "baseline": "middle", "fontSize": 18, "fontStyle": "italic", "color": "#222222"},
       "encoding": {"y": {"field": "y", "type": "quantitative", "axis": {"orient": "left", "offset": -126, "values": [0, 0.2, 0.4, 0.6, 0.8, 1], "labelExpr": "datum.value === 0 ? '0' : format(datum.value, '.1f')", "title": "freq.", "titlePadding": 8}}, "text": {"field": "t"}}}
    ]
  },
  {
    "data": {"name": "boxes"},
    "transform": [{"filter": "datum.p === 'c2'"}],
    "encoding": {
      "x": {"field": "c", "type": "quantitative", "scale": {"domain": [-0.647, 6.675], "range": [356, 615], "nice": false, "zero": false, "padding": 0},
            "axis": {"orient": "bottom", "offset": -45, "values": [0, 1, 2, 3, 4, 5, 6], "format": "d", "title": "pairwise differences", "labelPadding": 6, "titlePadding": 2}}
    },
    "layer": [
      {"data": {"values": [{"x1": -0.647, "x2": 6.675, "y1": -0.024, "y2": 1.031}]}, "transform": [], "mark": {"type": "rect", "fillOpacity": 0, "stroke": "#35596a", "strokeWidth": 1.3},
       "encoding": {
         "x": {"field": "x1", "type": "quantitative", "axis": {"orient": "bottom", "offset": -45, "values": [0, 1, 2, 3, 4, 5, 6], "format": "d", "title": "pairwise differences", "labelPadding": 6, "titlePadding": 2}},
         "x2": {"field": "x2"},
         "y": {"field": "y1", "type": "quantitative", "scale": {"domain": [-0.024, 1.031], "range": [1121, 785], "nice": false, "zero": false, "padding": 0}, "axis": null},
         "y2": {"field": "y2"}
       }},
      {"mark": {"type": "rule", "color": "#35596a", "strokeWidth": 1.1, "strokeDash": [3, 2.5]},
       "encoding": {"y": {"field": "lo", "type": "quantitative", "axis": null}, "y2": {"field": "hi"}}},
      {"mark": {"type": "tick", "orient": "horizontal", "size": 11, "thickness": 1.2, "color": "#35596a", "opacity": 1},
       "encoding": {"y": {"field": "lo", "type": "quantitative", "axis": null}}},
      {"mark": {"type": "tick", "orient": "horizontal", "size": 11, "thickness": 1.2, "color": "#35596a", "opacity": 1},
       "encoding": {"y": {"field": "hi", "type": "quantitative", "axis": null}}},
      {"mark": {"type": "bar", "width": 27, "fill": "white", "stroke": "#35596a", "strokeWidth": 1.4},
       "encoding": {"y": {"field": "q1", "type": "quantitative", "axis": null}, "y2": {"field": "q3"}}},
      {"mark": {"type": "tick", "orient": "horizontal", "size": 25, "thickness": 1.5, "color": "#e0505c", "opacity": 1},
       "encoding": {"y": {"field": "med", "type": "quantitative", "axis": null}}},
      {"data": {"name": "out"}, "transform": [{"filter": "datum.p === 'c2'"}], "mark": {"type": "point", "filled": true, "size": 6, "color": "#4a6a85", "opacity": 1},
       "encoding": {"y": {"field": "v", "type": "quantitative", "axis": null}}},
      {"data": {"values": [{"t": "6 SNPs (21)", "c": 6.585, "y": 0.984}]}, "mark": {"type": "text", "align": "right", "baseline": "middle", "fontSize": 15, "color": "#222222"},
       "encoding": {"y": {"field": "y", "type": "quantitative", "axis": null}, "text": {"field": "t"}}}
    ]
  }
]
}
